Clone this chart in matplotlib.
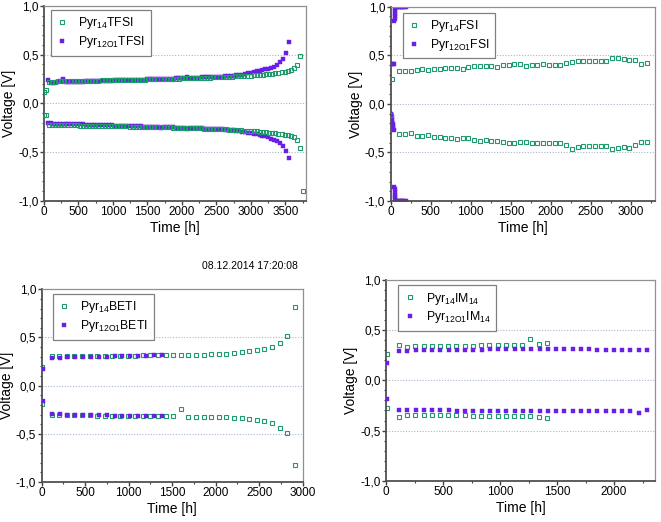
import numpy as np
import matplotlib
matplotlib.use("Agg")
import matplotlib.pyplot as plt
from matplotlib.ticker import MultipleLocator

plt.rcParams['font.family'] = ['Liberation Sans', 'DejaVu Sans']
plt.rcParams['mathtext.fontset'] = 'custom'
plt.rcParams['mathtext.rm'] = 'Liberation Sans'

GREEN = '#1f9a6c'
PURPLE = '#6a1fe6'

# ---------------- Panel 1: TFSI ----------------
tfsi14_t0 = [0, 35]
tfsi14_up0 = [0.12, 0.135]
tfsi14_lo0 = [-0.12, -0.12]
tfsi14_t = list(np.arange(70, 3716, 45))
tfsi14_up = [0.220, 0.222, 0.224, 0.225, 0.226, 0.227, 0.228, 0.228, 0.229, 0.230,
             0.230, 0.231, 0.232, 0.232, 0.233, 0.234, 0.234, 0.235, 0.236, 0.236,
             0.237, 0.238, 0.238, 0.239, 0.240, 0.240, 0.241, 0.242, 0.243, 0.243,
             0.244, 0.245, 0.246, 0.247, 0.247, 0.248, 0.249, 0.250, 0.251, 0.252,
             0.253, 0.254, 0.255, 0.256, 0.257, 0.258, 0.259, 0.260, 0.261, 0.262,
             0.263, 0.264, 0.265, 0.266, 0.267, 0.268, 0.270, 0.271, 0.273, 0.274,
             0.276, 0.278, 0.280, 0.282, 0.284, 0.286, 0.288, 0.291, 0.293, 0.296,
             0.299, 0.302, 0.306, 0.310, 0.315, 0.321, 0.327, 0.335, 0.343, 0.362,
             0.395, 0.490]
tfsi14_lo_t = tfsi14_t + [3760]
tfsi14_lo = [-0.220, -0.221, -0.222, -0.223, -0.224, -0.225, -0.225, -0.226, -0.227, -0.227,
             -0.228, -0.228, -0.229, -0.230, -0.230, -0.231, -0.231, -0.232, -0.233, -0.233,
             -0.234, -0.235, -0.235, -0.236, -0.237, -0.237, -0.238, -0.239, -0.239, -0.240,
             -0.241, -0.242, -0.242, -0.243, -0.244, -0.245, -0.246, -0.246, -0.247, -0.248,
             -0.249, -0.250, -0.251, -0.252, -0.253, -0.254, -0.255, -0.256, -0.257, -0.258,
             -0.259, -0.260, -0.261, -0.262, -0.264, -0.265, -0.266, -0.268, -0.269, -0.271,
             -0.273, -0.275, -0.277, -0.279, -0.281, -0.284, -0.286, -0.289, -0.291, -0.294,
             -0.297, -0.300, -0.303, -0.307, -0.311, -0.316, -0.321, -0.327, -0.335, -0.348,
             -0.380, -0.463, -0.900]

tfsi12_t = list(np.arange(60, 3550, 42))
tfsi12_up = [0.240, 0.212, 0.213, 0.215, 0.232, 0.250, 0.218, 0.219, 0.220, 0.221,
             0.222, 0.223, 0.224, 0.225, 0.226, 0.227, 0.228, 0.229, 0.230, 0.231,
             0.232, 0.233, 0.234, 0.235, 0.236, 0.237, 0.238, 0.239, 0.240, 0.241,
             0.242, 0.243, 0.244, 0.245, 0.246, 0.247, 0.248, 0.249, 0.250, 0.251,
             0.252, 0.253, 0.254, 0.255, 0.256, 0.257, 0.258, 0.260, 0.268, 0.262,
             0.263, 0.264, 0.265, 0.266, 0.267, 0.268, 0.269, 0.270, 0.271, 0.272,
             0.274, 0.276, 0.278, 0.281, 0.283, 0.287, 0.291, 0.296, 0.302, 0.309,
             0.316, 0.322, 0.328, 0.334, 0.341, 0.348, 0.356, 0.366, 0.378, 0.395,
             0.422, 0.458, 0.522, 0.627]
tfsi12_lo = [-0.200, -0.205, -0.207, -0.208, -0.209, -0.210, -0.211, -0.212, -0.213, -0.214,
             -0.215, -0.216, -0.217, -0.218, -0.219, -0.220, -0.221, -0.222, -0.223, -0.224,
             -0.225, -0.226, -0.227, -0.228, -0.229, -0.230, -0.231, -0.232, -0.233, -0.234,
             -0.235, -0.236, -0.237, -0.238, -0.239, -0.240, -0.241, -0.242, -0.243, -0.258,
             -0.245, -0.246, -0.247, -0.248, -0.249, -0.250, -0.251, -0.252, -0.266, -0.254,
             -0.255, -0.256, -0.257, -0.258, -0.259, -0.260, -0.261, -0.262, -0.263, -0.265,
             -0.267, -0.269, -0.271, -0.274, -0.277, -0.281, -0.285, -0.290, -0.295, -0.300,
             -0.306, -0.312, -0.318, -0.325, -0.332, -0.340, -0.349, -0.362, -0.375, -0.390,
             -0.410, -0.440, -0.490, -0.562]

# ---------------- Panel 2: FSI ----------------
fsi14_t = [20] + list(np.linspace(108, 3196, 44))
fsi14_up = [0.26, 0.336, 0.340, 0.340, 0.350, 0.356, 0.350, 0.360, 0.363, 0.370, 0.370,
            0.370, 0.360, 0.377, 0.387, 0.390, 0.390, 0.393, 0.383, 0.397, 0.400,
            0.406, 0.414, 0.395, 0.400, 0.403, 0.406, 0.404, 0.404, 0.404, 0.425,
            0.435, 0.440, 0.443, 0.440, 0.440, 0.440, 0.440, 0.470, 0.470, 0.466,
            0.452, 0.449, 0.408, 0.418]
fsi14_lo_t = [10] + list(np.linspace(108, 3196, 44))
fsi14_lo = [-0.11, -0.31, -0.315, -0.305, -0.33, -0.335, -0.32, -0.34, -0.345, -0.35, -0.35,
            -0.36, -0.35, -0.355, -0.37, -0.38, -0.375, -0.385, -0.38, -0.39, -0.40,
            -0.40, -0.395, -0.39, -0.40, -0.40, -0.40, -0.405, -0.405, -0.40, -0.42,
            -0.46, -0.44, -0.435, -0.435, -0.435, -0.43, -0.43, -0.46, -0.455, -0.445,
            -0.45, -0.42, -0.39, -0.395]
fsi12_up_t = [22, 30, 38, 47, 49, 51, 53, 55, 58, 62, 70, 85, 100, 115, 130, 145, 160, 175, 190]
fsi12_up = [0.41, 0.41, 0.41, 0.85, 0.87, 0.90, 0.93, 0.96, 0.98, 1.0, 1.0, 1.0, 1.0,
            1.0, 1.0, 1.0, 1.0, 1.0, 1.0]
fsi12_lo_t = [8, 12, 16, 20, 24, 28, 32, 36, 47, 49, 51, 53, 55, 58, 62, 70, 85, 100,
              115, 130, 145, 160, 175, 190]
fsi12_lo = [-0.10, -0.14, -0.17, -0.19, -0.21, -0.23, -0.25, -0.27, -0.86, -0.88, -0.91,
            -0.94, -0.96, -0.98, -1.0, -1.0, -1.0, -1.0, -1.0, -1.0, -1.0, -1.0, -1.0, -1.0]

# ---------------- Panel 3: BETI ----------------
beti14_t = [8] + list(np.linspace(115, 2909, 33))
beti14_up = [0.197, 0.31, 0.305, 0.305, 0.305, 0.305, 0.31, 0.31, 0.31, 0.31, 0.31,
             0.31, 0.312, 0.315, 0.315, 0.315, 0.315, 0.318, 0.32, 0.32, 0.32,
             0.322, 0.325, 0.328, 0.332, 0.337, 0.345, 0.355, 0.365, 0.378, 0.398,
             0.443, 0.52, 0.817]
beti14_lo = [-0.19, -0.30, -0.30, -0.305, -0.305, -0.305, -0.305, -0.31, -0.31, -0.31, -0.31,
             -0.31, -0.31, -0.315, -0.315, -0.315, -0.31, -0.315, -0.24, -0.325, -0.325,
             -0.325, -0.325, -0.327, -0.33, -0.335, -0.34, -0.345, -0.355, -0.365, -0.39,
             -0.436, -0.495, -0.82]
beti12_t = [12] + list(np.linspace(115, 1379, 15))
beti12_up = [0.17, 0.29, 0.29, 0.295, 0.30, 0.30, 0.30, 0.30, 0.302, 0.305, 0.305,
             0.308, 0.31, 0.31, 0.315, 0.315]
beti12_lo = [-0.16, -0.29, -0.295, -0.30, -0.30, -0.305, -0.305, -0.305, -0.308, -0.31,
             -0.31, -0.31, -0.312, -0.315, -0.318, -0.318]

# ---------------- Panel 4: IM14 ----------------
im14_t = [12] + list(np.linspace(114, 1410, 19))
im14_up = [0.26, 0.355, 0.335, 0.34, 0.34, 0.34, 0.34, 0.34, 0.345, 0.345, 0.347,
           0.35, 0.35, 0.35, 0.353, 0.355, 0.355, 0.41, 0.365, 0.37]
im14_lo = [-0.28, -0.36, -0.345, -0.345, -0.345, -0.345, -0.34, -0.345, -0.345, -0.345,
           -0.35, -0.35, -0.35, -0.35, -0.355, -0.355, -0.355, -0.355, -0.365, -0.37]
im12_t = [12] + list(np.linspace(114, 2289, 31))
im12_up = [0.17, 0.295, 0.295, 0.30, 0.30, 0.30, 0.30, 0.30, 0.305, 0.305, 0.305,
           0.305, 0.308, 0.308, 0.31, 0.31, 0.31, 0.312, 0.31, 0.31, 0.31,
           0.31, 0.31, 0.31, 0.308, 0.305, 0.305, 0.305, 0.305, 0.302, 0.30, 0.30]
im12_lo = [-0.19, -0.295, -0.30, -0.30, -0.30, -0.30, -0.30, -0.30, -0.305, -0.305, -0.305,
           -0.305, -0.305, -0.31, -0.31, -0.31, -0.31, -0.31, -0.31, -0.308, -0.305,
           -0.305, -0.305, -0.305, -0.305, -0.305, -0.308, -0.31, -0.31, -0.31, -0.32, -0.30]

yticks = [-1.0, -0.5, 0.0, 0.5, 1.0]
ytick_labels = ['-1,0', '-0,5', '0,0', '0,5', '1,0']

fig = plt.figure(figsize=(6.61, 5.22), dpi=100)

def style(ax, xmax, xmajor):
    ax.set_xlim(0, xmax)
    ax.set_ylim(-1.0, 1.0)
    ax.set_yticks(yticks)
    ax.set_yticklabels(ytick_labels)
    ax.xaxis.set_major_locator(MultipleLocator(xmajor))
    ax.xaxis.set_minor_locator(MultipleLocator(xmajor / 2))
    ax.yaxis.set_minor_locator(MultipleLocator(0.1))
    ax.tick_params(which='both', direction='out', labelsize=8.5, color='#404040',
                   top=False, right=False, pad=1.2)
    ax.tick_params(which='major', length=2.6, width=1.0)
    ax.tick_params(which='minor', length=1.6, width=0.8)
    for s in ['left', 'bottom']:
        ax.spines[s].set_color('#505050')
        ax.spines[s].set_linewidth(1.3)
    for s in ['top', 'right']:
        ax.spines[s].set_color('#909090')
        ax.spines[s].set_linewidth(0.9)
    for y in [-0.5, 0.0, 0.5]:
        ax.axhline(y, color='#a9b8cc', lw=0.8, ls=(0, (1, 1.5)), zorder=0)
    ax.set_xlabel('Time [h]', fontsize=10, labelpad=2)
    ax.set_ylabel('Voltage [V]', fontsize=10, labelpad=1.5)

def leg(ax, handles, labels, x, y):
    l = ax.legend(handles, labels, loc='upper left', bbox_to_anchor=(x, y),
                  frameon=True, fancybox=False, edgecolor='#808080', framealpha=1,
                  fontsize=8.8, handlelength=1.0, handletextpad=0.8, borderpad=0.45,
                  labelspacing=0.22, borderaxespad=0)
    l.get_frame().set_linewidth(0.9)

gkw = dict(ls='none', marker='s', ms=3.2, mfc='none', mec=GREEN, mew=0.8)
pkw = dict(ls='none', marker='s', ms=3.2, mfc=PURPLE, mec=PURPLE, mew=0.3)

# Panel 1
ax1 = fig.add_axes([0.0666, 0.6155, 0.3964, 0.373])
p1, = ax1.plot(tfsi12_t, tfsi12_up, zorder=2, **pkw)
ax1.plot(tfsi12_t, tfsi12_lo, zorder=2, **pkw)
g1, = ax1.plot(tfsi14_t0 + tfsi14_t, tfsi14_up0 + tfsi14_up, zorder=3, **gkw)
ax1.plot(tfsi14_t0 + tfsi14_lo_t, tfsi14_lo0 + tfsi14_lo, zorder=3, **gkw)
style(ax1, 3800, 500)
leg(ax1, [g1, p1], [r'Pyr$\mathregular{_{14}}$TFSI', r'Pyr$\mathregular{_{12O1}}$TFSI'], 0.026, 0.98)

# Panel 2
ax2 = fig.add_axes([0.591, 0.615, 0.400, 0.372])
g2, = ax2.plot(fsi14_t, fsi14_up, zorder=3, **gkw)
ax2.plot(fsi14_lo_t, fsi14_lo, zorder=3, **gkw)
p2, = ax2.plot(fsi12_up_t, fsi12_up, zorder=2, **pkw)
ax2.plot(fsi12_lo_t, fsi12_lo, zorder=2, **pkw)
style(ax2, 3300, 500)
leg(ax2, [g2, p2], [r'Pyr$\mathregular{_{14}}$FSI', r'Pyr$\mathregular{_{12O1}}$FSI'], 0.045, 0.969)

# Panel 3
ax3 = fig.add_axes([0.063, 0.0766, 0.395, 0.3692])
g3, = ax3.plot(beti14_t, beti14_up, zorder=2, **gkw)
ax3.plot(beti14_t, beti14_lo, zorder=2, **gkw)
p3, = ax3.plot(beti12_t, beti12_up, zorder=3, **pkw)
ax3.plot(beti12_t, beti12_lo, zorder=3, **pkw)
style(ax3, 3000, 500)
leg(ax3, [g3, p3], [r'Pyr$\mathregular{_{14}}$BETI', r'Pyr$\mathregular{_{12O1}}$BETI'], 0.042, 0.976)

# Panel 4
ax4 = fig.add_axes([0.584, 0.079, 0.407, 0.3846])
g4, = ax4.plot(im14_t, im14_up, zorder=2, **gkw)
ax4.plot(im14_t, im14_lo, zorder=2, **gkw)
p4, = ax4.plot(im12_t, im12_up, zorder=3, **pkw)
ax4.plot(im12_t, im12_lo, zorder=3, **pkw)
style(ax4, 2360, 500)
leg(ax4, [g4, p4], [r'Pyr$\mathregular{_{14}}$IM$\mathregular{_{14}}$',
                    r'Pyr$\mathregular{_{12O1}}$IM$\mathregular{_{14}}$'], 0.046, 0.975)

fig.text(0.378, 0.490, '08.12.2014 17:20:08', fontsize=7.5, ha='center', va='center')

fig.savefig('out.png', dpi=100)
